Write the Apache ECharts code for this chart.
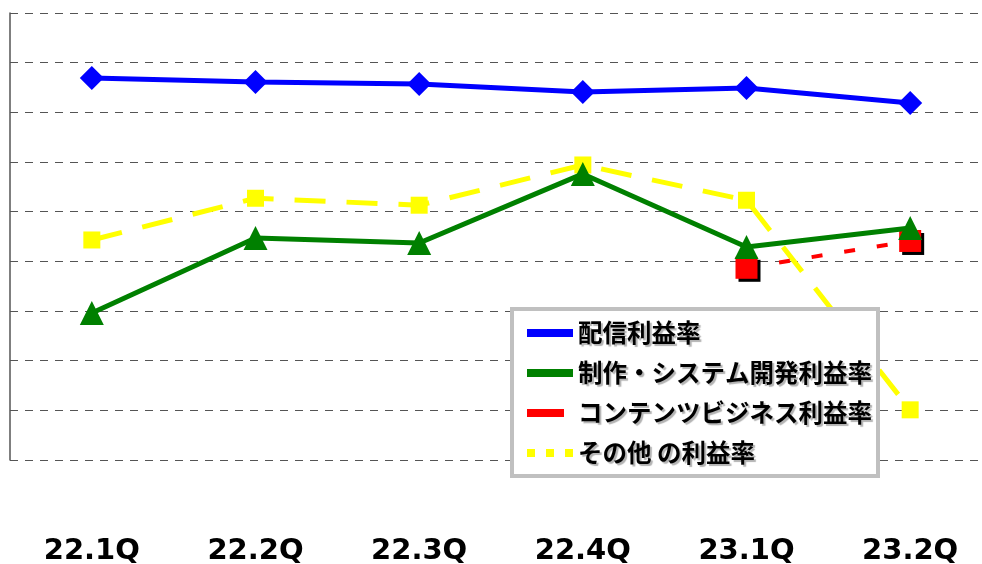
<!DOCTYPE html>
<html>
<head>
<meta charset="utf-8">
<script src="https://cdn.jsdelivr.net/npm/echarts@6/dist/echarts.min.js"></script>
<style>
html,body{margin:0;padding:0;background:#fff;}
#chart{width:982px;height:564px;}
</style>
</head>
<body>
<div id="chart"></div>
<script>
const categories = ['22.1Q', '22.2Q', '22.3Q', '22.4Q', '23.1Q', '23.2Q'];
const deliveryRate = [7.69, 7.61, 7.57, 7.41, 7.49, 7.19];
const productionRate = [2.96, 4.47, 4.37, 5.76, 4.29, 4.67];
const contentRate = [null, null, null, null, 3.87, 4.41];
const otherRate = [4.43, 5.27, 5.13, 5.94, 5.23, 1.01];
const seriesNames = ['配信利益率', '制作・システム開発利益率', 'コンテンツビジネス利益率', 'その他 の利益率'];

const chart = echarts.init(document.getElementById('chart'), null, {renderer: 'canvas'});
const noShadow = {shadowBlur: 0, shadowOffsetX: 0, shadowOffsetY: 0, shadowColor: 'transparent', borderWidth: 0};

chart.setOption({
  animation: false,
  backgroundColor: '#ffffff',
  grid: {left: 10, top: 13, right: -10, bottom: 104, containLabel: false, outerBoundsMode: 'none'},
  xAxis: {
    type: 'category',
    data: categories,
    boundaryGap: true,
    axisLine: {show: false},
    axisTick: {show: false},
    axisLabel: {
      margin: 77,
      fontFamily: 'DejaVu Sans',
      fontWeight: 'bold',
      fontSize: 29,
      color: '#000'
    },
    splitLine: {show: false}
  },
  yAxis: {
    type: 'value',
    min: 0,
    max: 9,
    interval: 1,
    axisLabel: {show: false},
    axisTick: {show: false},
    axisLine: {show: true, lineStyle: {color: '#555', width: 1.5}},
    splitLine: {show: true, lineStyle: {color: '#555', width: 1, type: [8, 7]}}
  },
  legend: {
    orient: 'vertical',
    left: 512,
    top: 309,
    z: 10,
    padding: [9, 6, 8, 15],
    itemWidth: 46,
    itemHeight: 8,
    itemGap: 10,
    backgroundColor: '#ffffff',
    borderColor: '#c0c0c0',
    borderWidth: 4,
    borderRadius: 0,
    selectedMode: false,
    textStyle: {
      fontFamily: 'Noto Sans CJK JP',
      fontWeight: 'bold',
      fontSize: 24.5,
      lineHeight: 30,
      color: '#000',
      textShadowColor: 'rgba(0,0,0,0.3)',
      textShadowOffsetX: 2,
      textShadowOffsetY: 2,
      textShadowBlur: 1
    },
    data: [
      {name: seriesNames[0], icon: 'rect', itemStyle: Object.assign({color: '#0000ff'}, noShadow)},
      {name: seriesNames[1], icon: 'rect', itemStyle: Object.assign({color: '#008000'}, noShadow)},
      {name: seriesNames[2], icon: 'path://M0,0h37v8h-37z M45.9,7.9h0.1v0.1h-0.1z', itemStyle: Object.assign({color: '#ff0000'}, noShadow)},
      {name: seriesNames[3], icon: 'path://M0,0h8v8h-8z M19,0h8v8h-8z M38,0h8v8h-8z', itemStyle: Object.assign({color: '#ffff00'}, noShadow)}
    ]
  },
  series: [
    {
      name: seriesNames[0],
      type: 'line',
      z: 5,
      data: deliveryRate,
      symbol: 'diamond',
      symbolSize: 24,
      itemStyle: {color: '#0000ff'},
      lineStyle: {color: '#0000ff', width: 5},
      emphasis: {disabled: true}
    },
    {
      name: seriesNames[1],
      type: 'line',
      z: 4,
      data: productionRate,
      symbol: 'triangle',
      symbolSize: 24,
      itemStyle: {color: '#008000'},
      lineStyle: {color: '#008000', width: 5},
      emphasis: {disabled: true}
    },
    {
      name: seriesNames[2],
      type: 'line',
      z: 3,
      data: contentRate,
      symbol: 'rect',
      symbolSize: 22,
      connectNulls: false,
      itemStyle: {color: '#ff0000', shadowColor: '#000', shadowOffsetX: 3, shadowOffsetY: 3, shadowBlur: 0},
      lineStyle: {color: '#ff0000', width: 4, type: [11, 22], shadowBlur: 0, shadowColor: 'transparent'},
      emphasis: {disabled: true}
    },
    {
      name: seriesNames[3],
      type: 'line',
      z: 2,
      data: otherRate,
      symbol: 'rect',
      symbolSize: 17,
      itemStyle: {color: '#ffff00'},
      lineStyle: {color: '#ffff00', width: 5, type: [31, 21]},
      emphasis: {disabled: true}
    }
  ]
});
</script>
</body>
</html>
